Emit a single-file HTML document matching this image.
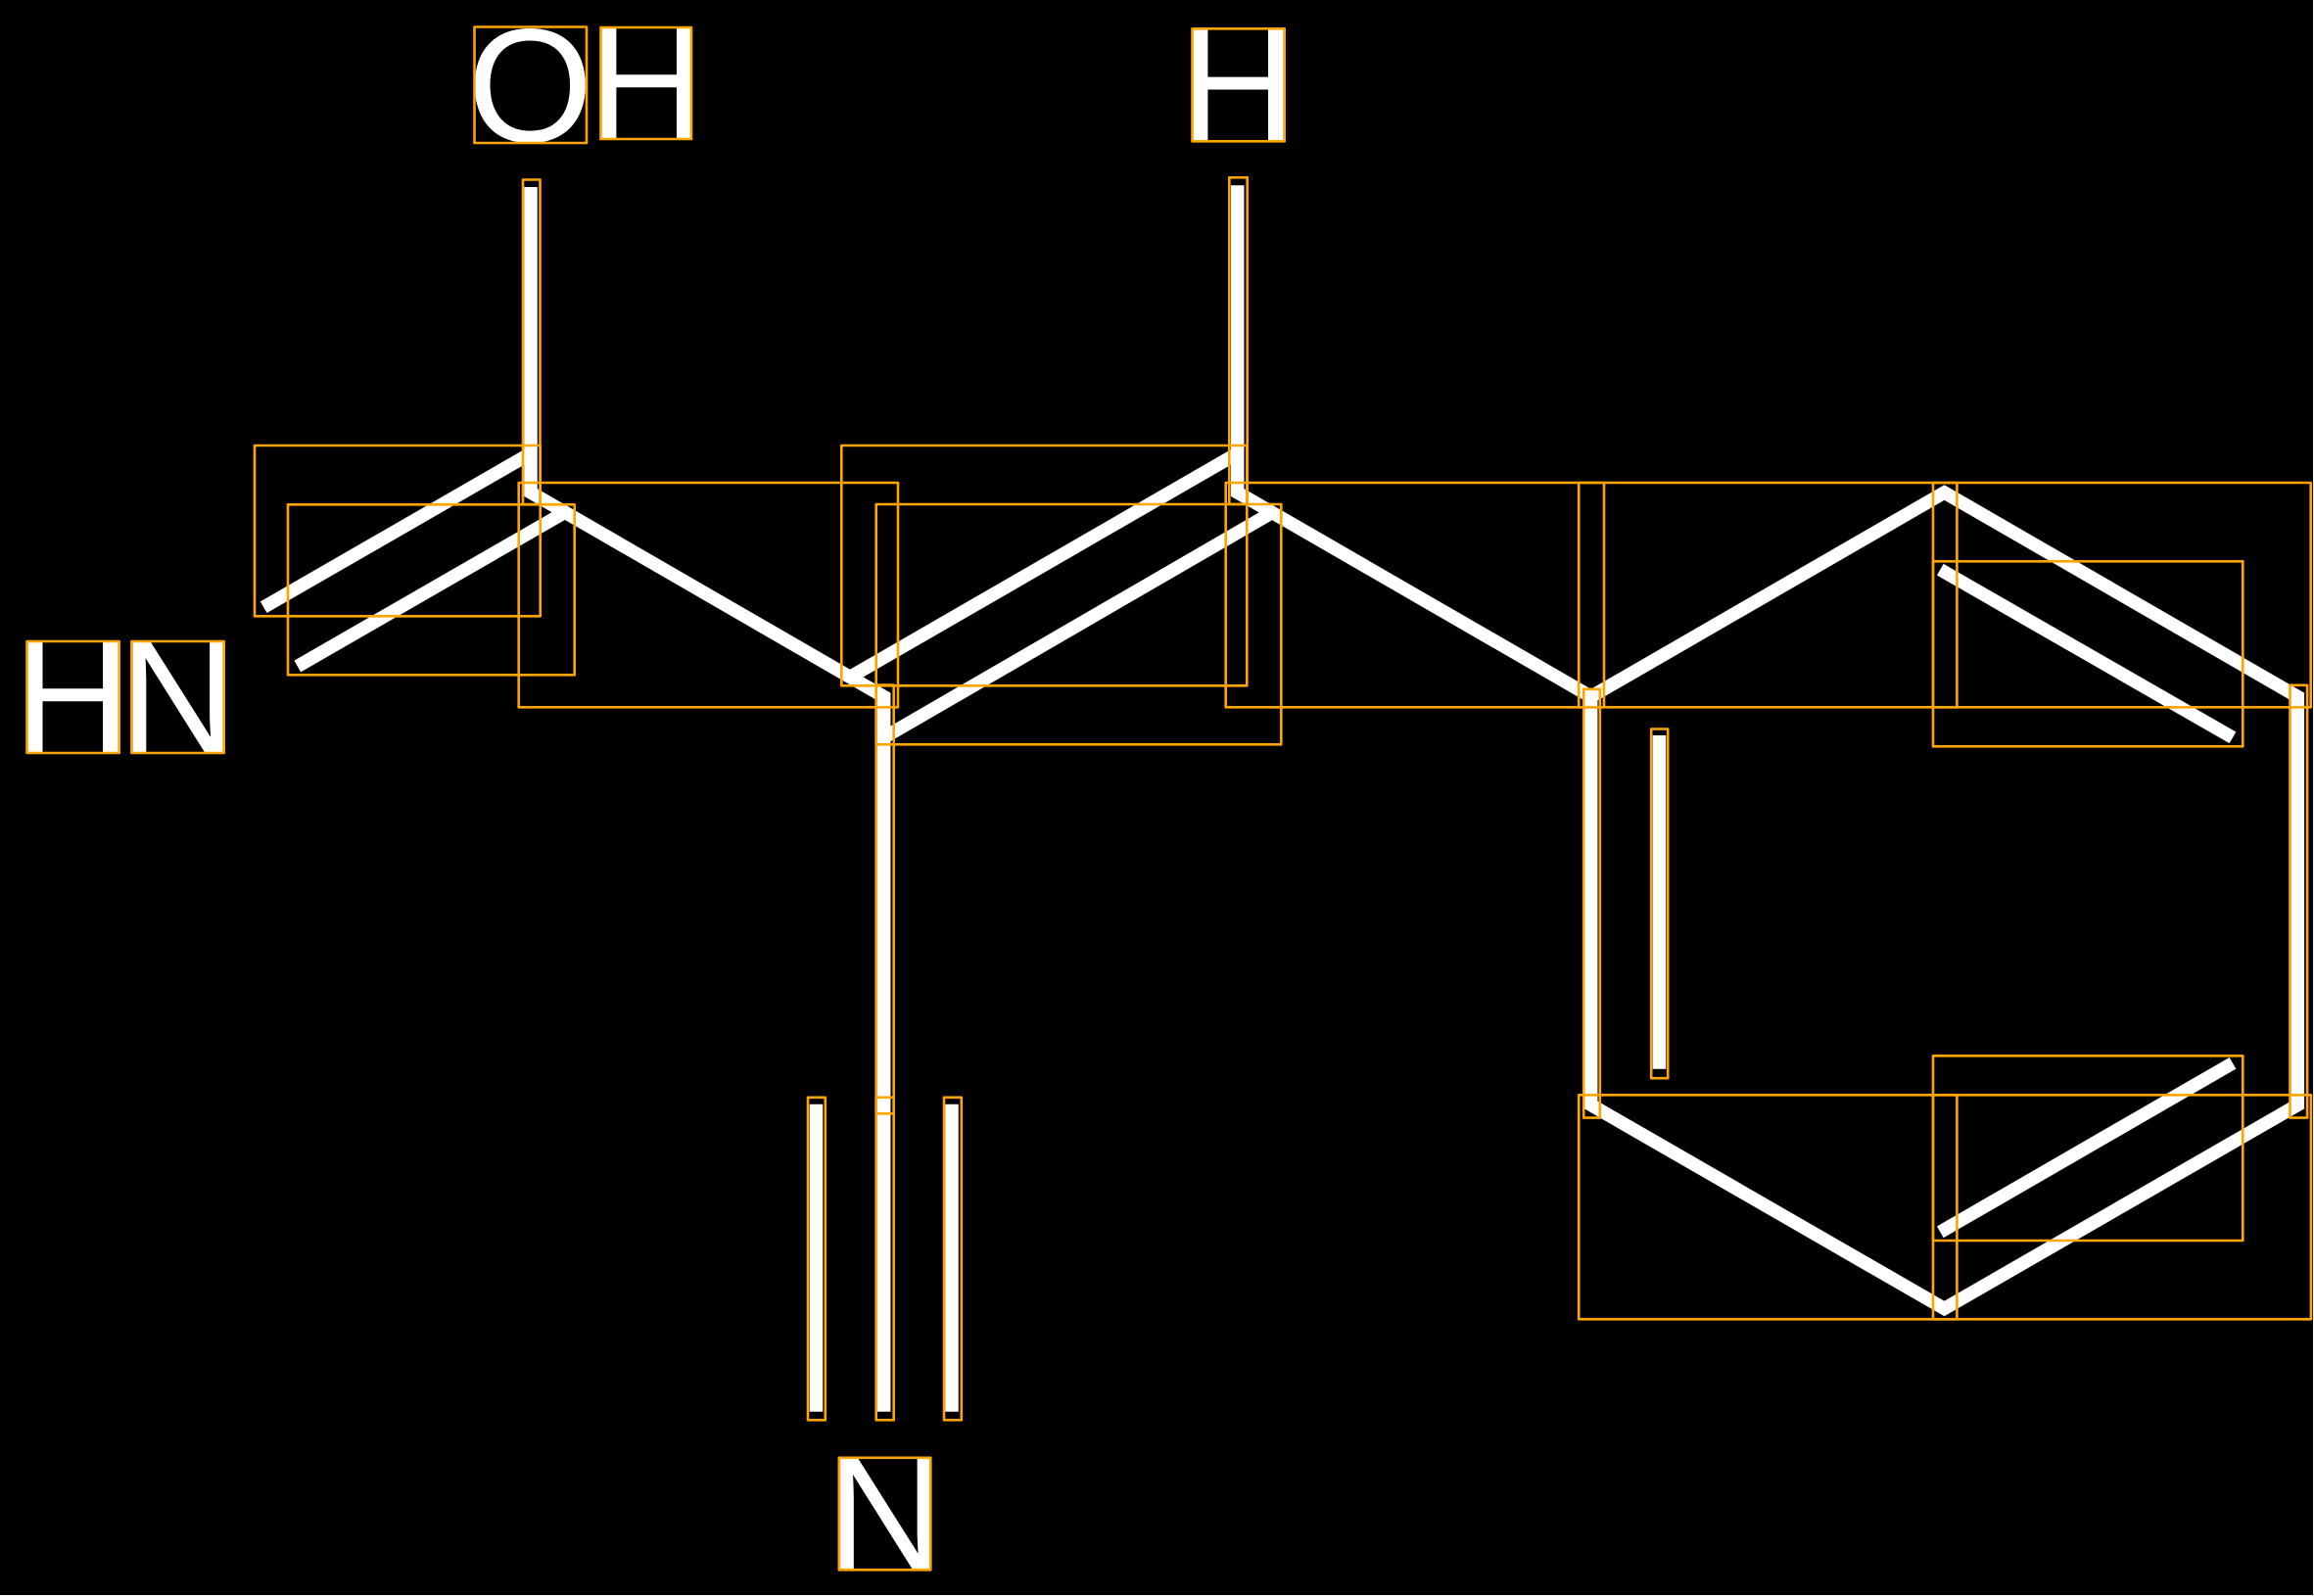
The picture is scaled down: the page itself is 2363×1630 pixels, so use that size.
<!DOCTYPE html>
<html>
<head>
<meta charset="utf-8">
<style>
html,body{margin:0;padding:0;background:#fff;}
svg{display:block;}
text{font-family:"Liberation Sans",sans-serif;font-size:165.5px;fill:#fff;}
.w{fill:none;stroke:#fff;stroke-width:13.5;stroke-linejoin:miter;stroke-linecap:butt;}
.o{fill:none;stroke:#FFA500;stroke-width:2.6;stroke-linejoin:round;}
</style>
</head>
<body>
<svg width="2363" height="1630" viewBox="0 0 2363 1630" xmlns="http://www.w3.org/2000/svg">
<rect x="0" y="0" width="2362" height="1629" fill="#000"/>

<!-- bonds -->
<polyline class="w" points="542,191 542,503 902.7,711.5 902.7,1128"/>
<line class="w" x1="902.7" y1="1128" x2="902.7" y2="1441.7"/>
<line class="w" x1="833.5" y1="1127.7" x2="833.5" y2="1441.7"/>
<line class="w" x1="972" y1="1127.7" x2="972" y2="1441.7"/>
<line class="w" x1="269.2" y1="620.2" x2="542" y2="463"/>
<line class="w" x1="303.8" y1="680.5" x2="576.7" y2="523.3"/>
<line class="w" x1="868" y1="691.5" x2="1263.7" y2="463"/>
<line class="w" x1="902.7" y1="753.2" x2="1298.9" y2="523.5"/>
<polyline class="w" points="1263.7,189.3 1263.7,503 1624.7,711.5 1624.7,1128.5 1985.5,1336.5 2346.3,1128.5 2346.3,711.5 1985.5,503 1624.7,711.5" />
<line class="w" x1="1694.5" y1="751" x2="1694.5" y2="1091.7"/>
<line class="w" x1="1981.3" y1="581.7" x2="2280" y2="753.3"/>
<line class="w" x1="1981.3" y1="1258.3" x2="2280" y2="1085.8"/>

<!-- labels -->
<text x="477" y="144.5">O</text>
<text x="600.4" y="142">H</text>
<text x="1204.4" y="144.3">H</text>
<text x="14.5" y="769">H</text>
<text x="122" y="769">N</text>
<text x="844.5" y="1603">N</text>

<!-- boxes -->
<rect class="o" x="484.5" y="27.5" width="114.5" height="118.5"/>
<rect class="o" x="613.5" y="28" width="92.5" height="114"/>
<rect class="o" x="1217.5" y="29.3" width="94.2" height="115"/>
<rect class="o" x="27.5" y="655" width="94.2" height="114"/>
<rect class="o" x="134.4" y="655" width="94.3" height="114"/>
<rect class="o" x="856.8" y="1488.8" width="93.5" height="114.5"/>

<rect class="o" x="534" y="183.5" width="17.5" height="331.5"/>
<rect class="o" x="1255.3" y="181.3" width="18.4" height="333.7"/>
<rect class="o" x="260" y="455" width="291.7" height="174.3"/>
<rect class="o" x="294" y="515.3" width="292.7" height="174"/>
<rect class="o" x="529.7" y="493" width="387.3" height="229.3"/>
<rect class="o" x="859.3" y="455" width="414" height="245.3"/>
<rect class="o" x="894.7" y="515" width="413.6" height="245.3"/>
<rect class="o" x="1251.7" y="493" width="386.3" height="229.3"/>

<rect class="o" x="894.7" y="699.5" width="18" height="437.8"/>
<rect class="o" x="894.7" y="1120.8" width="18" height="329.5"/>
<rect class="o" x="825" y="1120.8" width="17.8" height="329.5"/>
<rect class="o" x="964" y="1120.8" width="17.8" height="329.5"/>

<rect class="o" x="1612.2" y="493" width="386.2" height="229.3"/>
<rect class="o" x="1974" y="493" width="385.7" height="229.3"/>
<rect class="o" x="1974" y="573.3" width="316.3" height="189"/>
<rect class="o" x="1617.2" y="703.8" width="16.6" height="437.8"/>
<rect class="o" x="2338.5" y="699.8" width="17.6" height="441.8"/>
<rect class="o" x="1686.2" y="744.5" width="17" height="356.7"/>
<rect class="o" x="1612.2" y="1118.3" width="386.2" height="229"/>
<rect class="o" x="1974" y="1118.3" width="385.9" height="229"/>
<rect class="o" x="1974" y="1078.3" width="316.3" height="188.7"/>
</svg>
</body>
</html>
